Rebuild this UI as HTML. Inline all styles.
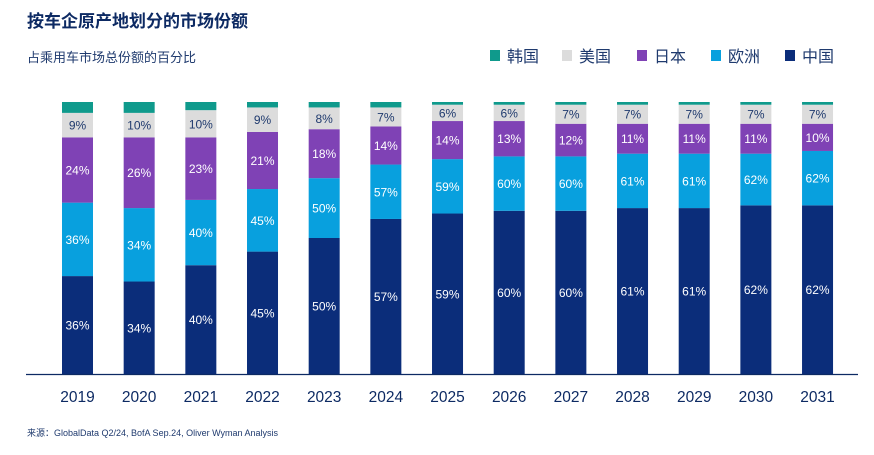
<!DOCTYPE html>
<html><head><meta charset="utf-8"><style>
body{margin:0;background:#fff;width:874px;height:450px;overflow:hidden;font-family:"Liberation Sans","Noto Sans CJK SC",sans-serif}
svg text{font-family:"Liberation Sans","Noto Sans CJK SC",sans-serif}
</style></head><body>
<svg id="c" width="874" height="450">
<text x="27" y="27" font-size="17" font-weight="bold" fill="#0d2a63">按车企原产地划分的市场份额</text>
<text x="27" y="62" font-size="13" fill="#1f3a6e">占乘用车市场总份额的百分比</text>
<text x="27" y="436" font-size="9" fill="#1f3a6e">来源：GlobalData Q2/24, BofA Sep.24, Oliver Wyman Analysis</text>
<g id="legend"></g>
<g id="bars"></g>
<line x1="26" y1="374.5" x2="858" y2="374.5" stroke="#0d2a63" stroke-width="1.2"/>
</svg>
<script>
const years=["2019","2020","2021","2022","2023","2024","2025","2026","2027","2028","2029","2030","2031"];
const china=[36,34,40,45,50,57,59,60,60,61,61,62,62];
const europe=[27,27,24,23,22,20,20,20,20,20,20,19,20];
const japan=[24,26,23,21,18,14,14,13,12,11,11,11,10];
const usa=[9,9,10,9,8,7,6,6,7,7,7,7,7];
const korea=[4,4,3,2,2,2,1,1,1,1,1,1,1];
const chinaLabels=["36%","34%","40%","45%","50%","57%","59%","60%","60%","61%","61%","62%","62%"];
const europeLabels=["36%","34%","40%","45%","50%","57%","59%","60%","60%","61%","61%","62%","62%"];
const japanLabels=["24%","26%","23%","21%","18%","14%","14%","13%","12%","11%","11%","11%","10%"];
const usaLabels=["9%","10%","10%","9%","8%","7%","6%","6%","7%","7%","7%","7%","7%"];
const NS="http://www.w3.org/2000/svg";
const base=374, top0=102, x0=77.5, step=61.67, bw=31;
const y=v=>base-(v/100)*(base-top0);
const xc=i=>x0+i*step;
const series=[
 {k:"china",d:china,l:chinaLabels,c:"#0b2d7a",t:"#fff"},
 {k:"europe",d:europe,l:europeLabels,c:"#08a0de",t:"#fff"},
 {k:"japan",d:japan,l:japanLabels,c:"#7f42b5",t:"#fff"},
 {k:"usa",d:usa,l:usaLabels,c:"#dcdcdc",t:"#1f3a6e"},
 {k:"korea",d:korea,l:null,c:"#0f9a8c",t:"#fff"}];
const g=document.getElementById("bars");
years.forEach((yr,i)=>{
  let cum=0;
  series.forEach(s=>{
    const v=s.d[i], y1=y(cum), y2=y(cum+v);
    const r=document.createElementNS(NS,"rect");
    r.setAttribute("x",xc(i)-bw/2);r.setAttribute("y",y2);r.setAttribute("width",bw);r.setAttribute("height",y1-y2);r.setAttribute("fill",s.c);
    
    
    g.appendChild(r);
    if(s.l){
      const t=document.createElementNS(NS,"text");
      t.setAttribute("x",xc(i));t.setAttribute("y",(y1+y2)/2+4.5);t.setAttribute("text-anchor","middle");t.setAttribute("font-size","12");t.setAttribute("fill",s.t);
      t.textContent=s.l[i];
      
      
      g.appendChild(t);
    }
    cum+=v;
  });
  const t=document.createElementNS(NS,"text");
  t.setAttribute("x",xc(i));t.setAttribute("y",402);t.setAttribute("text-anchor","middle");t.setAttribute("font-size","15.5");t.setAttribute("fill","#0d2a63");
  t.textContent=yr;
  
  
  g.appendChild(t);
});
const legNames=["韩国","美国","日本","欧洲","中国"];
const legColors=["#0f9a8c","#dcdcdc","#7f42b5","#08a0de","#0b2d7a"];
const legX=[490,562,637,711,785];
const lg=document.getElementById("legend");
legNames.forEach((n,i)=>{
  const r=document.createElementNS(NS,"rect");
  r.setAttribute("x",legX[i]);r.setAttribute("y",50);r.setAttribute("width",10);r.setAttribute("height",11);r.setAttribute("fill",legColors[i]);
  
  
  lg.appendChild(r);
  const t=document.createElementNS(NS,"text");
  t.setAttribute("x",legX[i]+17);t.setAttribute("y",62);t.setAttribute("font-size","16");t.setAttribute("fill","#1f3a6e");
  t.textContent=n;
  
  
  lg.appendChild(t);
});
</script>
</body></html>
